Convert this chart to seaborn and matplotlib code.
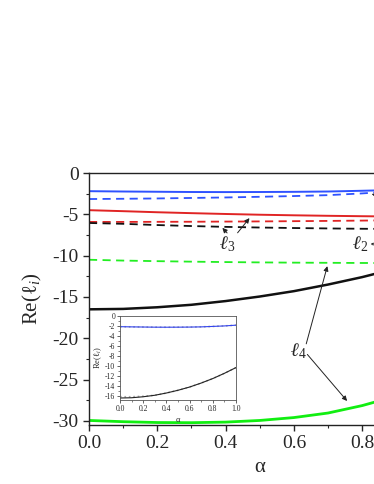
import matplotlib
matplotlib.use("Agg")
import matplotlib.pyplot as plt
from matplotlib.ticker import MultipleLocator
import seaborn as sns
import pandas as pd

alpha = [0.0, 0.1, 0.2, 0.3, 0.4, 0.5, 0.6, 0.7, 0.8, 0.9, 1.0]
blue_solid = [-2.2, -2.24, -2.27, -2.3, -2.31, -2.3, -2.28, -2.24, -2.15, -2.05, -1.9]
blue_dash = [-3.15, -3.12, -3.08, -3.02, -2.96, -2.88, -2.79, -2.68, -2.47, -2.2, -1.9]
red_solid = [-4.5, -4.62, -4.75, -4.86, -4.96, -5.05, -5.12, -5.18, -5.23, -5.27, -5.3]
red_dash = [-5.92, -5.92, -5.91, -5.9, -5.88, -5.86, -5.83, -5.8, -5.76, -5.72, -5.68]
black_dash = [-6.05, -6.15, -6.3, -6.42, -6.52, -6.6, -6.66, -6.71, -6.75, -6.78, -6.8]
green_dash = [-10.5, -10.6, -10.67, -10.73, -10.78, -10.82, -10.85, -10.87, -10.89, -10.9, -10.9]
black_solid = [-16.5, -16.45, -16.25, -15.95, -15.5, -14.95, -14.3, -13.5, -12.6, -11.55, -10.4]
green_solid = [-29.95, -30.1, -30.2, -30.22, -30.15, -29.95, -29.6, -29.05, -28.15, -27.0, -25.5]

inset_blue_dot = [-2.2, -2.24, -2.27, -2.3, -2.31, -2.3, -2.28, -2.24, -2.15, -2.05, -1.9]
inset_black_dot = [-16.25, -16.25, -16.15, -15.95, -15.5, -14.95, -14.3, -13.5, -12.6, -11.55, -10.4]

main_yticks = [0, -5, -10, -15, -20, -25, -30]
main_xticks = [0.0, 0.2, 0.4, 0.6, 0.8, 1.0]
inset_yticks = [0, -2, -4, -6, -8, -10, -12, -14, -16]

sns.set_style("ticks")
plt.rcParams['font.family'] = ['Liberation Serif', 'DejaVu Serif']
plt.rcParams['mathtext.fontset'] = 'custom'
plt.rcParams['mathtext.rm'] = 'Liberation Serif'
plt.rcParams['mathtext.it'] = 'Liberation Serif:italic'

fig = plt.figure(figsize=(3.74, 4.84), dpi=100)
ax = fig.add_axes([89 / 374, 1 - 425 / 484, 341.5 / 374, 252 / 484])

series = [
    (blue_solid, "#2f52ff", "-", 1.4),
    (blue_dash, "#2f52ff", "--", 1.3),
    (red_solid, "#e02424", "-", 1.4),
    (red_dash, "#e02424", "--", 1.3),
    (black_dash, "#111111", "--", 1.3),
    (green_dash, "#22ee22", "--", 1.3),
    (black_solid, "#111111", "-", 1.8),
    (green_solid, "#11ee11", "-", 2.0),
]
for vals, col, ls, lw in series:
    sns.lineplot(x=alpha, y=vals, ax=ax, color=col, lw=lw)
    l = ax.lines[-1]
    if ls == "--":
        l.set_dashes((4.5, 3.0))

ax.set_xlim(0, 1.0)
ax.set_ylim(-30.5, 0)
ax.set_xticks(main_xticks)
ax.set_yticks(main_yticks)
ax.set_xticklabels([f"{v:.1f}" for v in main_xticks])
ax.set_yticklabels([f"{v}" for v in main_yticks])
ax.xaxis.set_minor_locator(MultipleLocator(0.1))
ax.yaxis.set_minor_locator(MultipleLocator(2.5))
ax.tick_params(axis='both', which='major', labelsize=14, direction='out', length=4, width=1)
ax.tick_params(axis='both', which='minor', direction='out', length=2.5, width=0.8)
for s in ax.spines.values():
    s.set_linewidth(1.0)
    s.set_color('#222222')
ax.set_xlabel("α", fontsize=15, labelpad=4)
ax.set_ylabel("Re(ℓ$_i$)", fontsize=15, labelpad=6,
              fontstyle='normal')

lab = dict(fontsize=14, ha='center', va='center', fontweight='bold', fontstyle='italic')
akw = dict(arrowstyle="-|>", color="#222222", lw=0.7, mutation_scale=7)
ax.text(0.405, -8.6, "ℓ$_3$", **lab)
ax.annotate("", xy=(0.385, -6.4), xytext=(0.41, -7.5), arrowprops=akw)
ax.annotate("", xy=(0.475, -5.2), xytext=(0.43, -7.5), arrowprops=akw)

ax.text(0.795, -8.6, "ℓ$_2$", **lab)
ax.annotate("", xy=(0.96, -7.6), xytext=(0.82, -8.6),
            arrowprops=dict(arrowstyle="-", color="#222222", lw=0.7), annotation_clip=False)
ax.annotate("", xy=(0.96, -9.6), xytext=(0.82, -8.6),
            arrowprops=dict(arrowstyle="-", color="#222222", lw=0.7), annotation_clip=False)
ax.annotate("", xy=(0.82, -2.45), xytext=(0.9, -3.4), arrowprops=akw, annotation_clip=False)

ax.text(0.615, -21.6, "ℓ$_4$", **lab)
ax.annotate("", xy=(0.70, -10.95), xytext=(0.634, -21.0), arrowprops=akw)
ax.annotate("", xy=(0.761, -27.85), xytext=(0.634, -21.7), arrowprops=akw)

# inset
ins = fig.add_axes([120 / 374, 1 - 400 / 484, 116 / 374, 84.3 / 484])
sns.lineplot(x=alpha, y=inset_blue_dot, ax=ins, color="#aaaaaa", lw=1.2, linestyle=":")
sns.lineplot(x=alpha, y=inset_black_dot, ax=ins, color="#aaaaaa", lw=1.2, linestyle=":")
sns.lineplot(x=alpha, y=blue_solid, ax=ins, color="#3344ee", lw=0.8)
sns.lineplot(x=alpha, y=black_solid, ax=ins, color="#222222", lw=0.8)
ins.set_xlim(0, 1.0)
ins.set_ylim(-16.9, 0)
ins.set_yticks(inset_yticks)
ins.set_yticklabels([f"{v}" for v in inset_yticks])
ins.set_xticks(main_xticks)
ins.set_xticklabels([f"{v:.1f}" for v in main_xticks])
ins.xaxis.set_minor_locator(MultipleLocator(0.1))
ins.yaxis.set_minor_locator(MultipleLocator(1))
ins.tick_params(axis='both', which='major', labelsize=5.5, direction='out', length=2, width=0.5, pad=1.5)
ins.tick_params(axis='both', which='minor', direction='out', length=1.2, width=0.4)
for s in ins.spines.values():
    s.set_linewidth(0.6)
    s.set_color('#555555')
ins.set_xlabel("α", fontsize=6, labelpad=2)
ins.set_ylabel("Re(ℓ$_i$)", fontsize=6, labelpad=1)

fig.savefig("out.png", dpi=100)
